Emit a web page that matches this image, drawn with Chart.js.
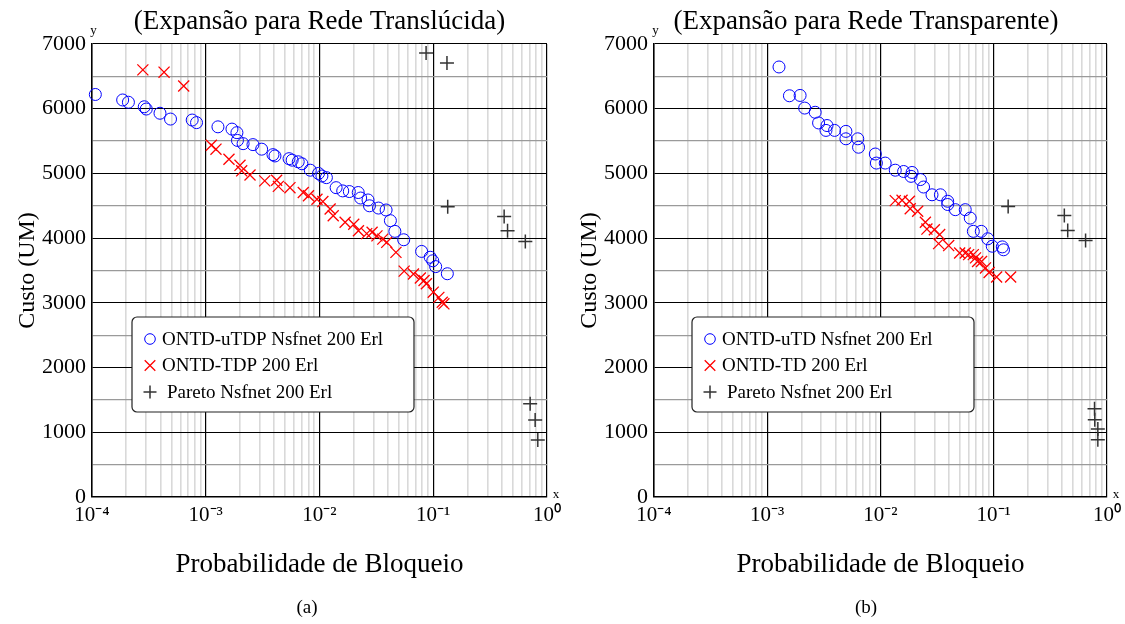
<!DOCTYPE html>
<html><head><meta charset="utf-8">
<script src="https://cdn.jsdelivr.net/npm/chart.js@4.4.1/dist/chart.umd.min.js"></script>
<style>
html,body{margin:0;padding:0;background:#fff;overflow:hidden;width:1125px;height:624px}
canvas{position:absolute;top:0}
</style></head><body>
<canvas id="ca" width="614" height="624" style="left:0px"></canvas>
<canvas id="cb" width="608" height="624" style="left:562px"></canvas>
<script>
// ---------- tick labels ----------
const xTickValues = [1e-4, 1e-3, 1e-2, 1e-1, 1];
const xTickLabels = ['10⁻⁴', '10⁻³', '10⁻²', '10⁻¹', '10⁰'];
const yTickValues = [0, 1000, 2000, 3000, 4000, 5000, 6000, 7000];
const yTickLabels = ['0', '1000', '2000', '3000', '4000', '5000', '6000', '7000'];

// ---------- (a) Expansão para Rede Translúcida ----------
const uTDP_x = [1.07e-4, 1.86e-4, 2.09e-4, 2.88e-4, 3.0e-4, 3.96e-4, 4.9e-4, 7.6e-4, 8.3e-4, 1.28e-3, 1.7e-3, 1.88e-3, 1.9e-3, 2.13e-3, 2.6e-3, 3.1e-3, 3.9e-3, 4.06e-3, 5.4e-3, 5.75e-3, 6.5e-3, 7.0e-3, 8.3e-3, 9.8e-3, 1.05e-2, 1.15e-2, 1.4e-2, 1.6e-2, 1.83e-2, 2.19e-2, 2.3e-2, 2.67e-2, 2.75e-2, 3.3e-2, 3.85e-2, 4.2e-2, 4.6e-2, 5.5e-2, 7.9e-2, 9.4e-2, 0.099, 0.105, 0.133];
const uTDP_y = [6220, 6135, 6100, 6030, 5995, 5930, 5840, 5825, 5785, 5720, 5685, 5630, 5510, 5460, 5445, 5375, 5290, 5270, 5228, 5205, 5180, 5150, 5050, 5000, 4960, 4935, 4780, 4730, 4720, 4705, 4620, 4590, 4500, 4465, 4435, 4270, 4105, 3975, 3795, 3705, 3650, 3560, 3450];
const TDP_x = [2.8e-4, 4.3e-4, 6.4e-4, 1.12e-3, 1.23e-3, 1.6e-3, 2.0e-3, 2.07e-3, 2.45e-3, 3.3e-3, 4.2e-3, 4.35e-3, 5.5e-3, 7.2e-3, 8.0e-3, 9.5e-3, 1.07e-2, 1.24e-2, 1.32e-2, 1.68e-2, 2.0e-2, 2.2e-2, 2.6e-2, 2.9e-2, 3.2e-2, 3.6e-2, 3.9e-2, 4.7e-2, 5.55e-2, 6.7e-2, 7.7e-2, 8.3e-2, 8.7e-2, 0.1, 0.112, 0.12, 0.124];
const TDP_y = [6600, 6565, 6350, 5435, 5375, 5220, 5125, 5040, 4975, 4885, 4895, 4800, 4780, 4705, 4655, 4600, 4565, 4450, 4345, 4245, 4215, 4115, 4070, 4090, 4035, 3985, 3935, 3780, 3490, 3445, 3385, 3345, 3295, 3165, 3085, 3010, 2985];
const paretoA_x = [0.0865, 0.132, 0.134, 0.42, 0.45, 0.645, 0.711, 0.787, 0.83];
const paretoA_y = [6860, 6705, 4485, 4335, 4115, 3950, 1440, 1190, 880];

// ---------- (b) Expansão para Rede Transparente ----------
const uTD_x = [1.27e-3, 1.57e-3, 1.95e-3, 2.14e-3, 2.65e-3, 2.84e-3, 3.37e-3, 3.3e-3, 3.93e-3, 4.95e-3, 4.95e-3, 6.3e-3, 6.4e-3, 9.0e-3, 9.2e-3, 1.1e-2, 1.35e-2, 1.6e-2, 1.9e-2, 1.86e-2, 2.25e-2, 2.4e-2, 2.85e-2, 3.38e-2, 3.92e-2, 3.92e-2, 4.58e-2, 5.6e-2, 6.2e-2, 6.6e-2, 7.76e-2, 8.86e-2, 9.7e-2, 0.119, 0.122];
const uTD_y = [6645, 6200, 6205, 6010, 5945, 5780, 5740, 5665, 5665, 5650, 5535, 5535, 5405, 5300, 5160, 5160, 5050, 5030, 5015, 4955, 4905, 4790, 4670, 4670, 4570, 4520, 4440, 4440, 4310, 4105, 4105, 3990, 3875, 3865, 3820];
const TD_x = [1.35e-2, 1.55e-2, 1.8e-2, 1.83e-2, 2.13e-2, 2.49e-2, 2.57e-2, 2.99e-2, 3.33e-2, 3.26e-2, 4.0e-2, 5.0e-2, 5.6e-2, 6.0e-2, 6.6e-2, 6.9e-2, 7.2e-2, 7.8e-2, 8.45e-2, 9.1e-2, 0.106, 0.141];
const TD_y = [4580, 4585, 4570, 4455, 4415, 4245, 4140, 4130, 4055, 3915, 3885, 3770, 3770, 3745, 3745, 3695, 3640, 3640, 3540, 3470, 3400, 3400];
const paretoB_x = [0.134, 0.42, 0.45, 0.647, 0.776, 0.78, 0.83, 0.83];
const paretoB_y = [4490, 4350, 4120, 3965, 1365, 1195, 1050, 885];

// ---------- helpers ----------
const SERIF = "'Liberation Serif', 'Times New Roman', serif";
const pts = (xs, ys) => xs.map((x, i) => ({x: x, y: ys[i]}));
const xGridValues = [];
xTickValues.slice(0, -1).forEach(d => { for (let k = 1; k <= 9; k++) xGridValues.push(+(d * k).toPrecision(6)); });
xGridValues.push(xTickValues[xTickValues.length - 1]);
const yGridValues = [];
for (let v = yTickValues[0]; v <= yTickValues[yTickValues.length - 1]; v += 500) yGridValues.push(v);
const isDecade = v => xTickValues.some(t => Math.abs(t - v) / t < 1e-6);

const figPlugin = {
  id: 'fig',
  afterDraw(chart, args, o) {
    const ctx = chart.ctx, ca = chart.chartArea;
    ctx.save();
    ctx.fillStyle = '#000';
    ctx.font = '13px ' + SERIF;
    ctx.textAlign = 'center'; ctx.textBaseline = 'middle';
    ctx.fillText('y', ca.left + 1.5, ca.top - 13);
    ctx.fillText('x', ca.right + 9, ca.bottom - 2);
    const L = ca.left + o.dx, T = ca.top + o.dy, W = o.w, H = o.h;
    ctx.beginPath();
    ctx.roundRect(L, T, W, H, 5);
    ctx.fillStyle = '#fff'; ctx.fill();
    ctx.lineWidth = 1.2; ctx.strokeStyle = '#222'; ctx.stroke();
    chart.data.datasets.forEach((ds, i) => {
      const y = T + 22 + i * 26.5;
      ctx.strokeStyle = ds.borderColor; ctx.fillStyle = 'rgba(0,0,0,0)';
      ctx.lineWidth = ds.borderWidth;
      Chart.helpers.drawPoint(ctx, {pointStyle: ds.pointStyle, radius: ds.legendRadius, rotation: 0, borderWidth: ds.borderWidth}, L + 18, y);
      ctx.fillStyle = '#000';
      ctx.font = '19px ' + SERIF;
      ctx.textAlign = 'left'; ctx.textBaseline = 'middle';
      ctx.fillText(ds.label, L + (ds.pointStyle === 'cross' ? 35 : 30), y + 1);
    });
    ctx.restore();
  }
};

// rightSpace: width of an empty right-hand box, used to place the full-width title / sub-caption centres
function makeChart(id, title, sub, titleFull, rightSpace, legendDx, sets) {
  const dsStyles = [
    {pointStyle: 'circle', pointRadius: 6, legendRadius: 5.3, borderColor: '#0000ff', borderWidth: 1},
    {pointStyle: 'crossRot', pointRadius: 7.8, legendRadius: 7.5, borderColor: '#ff0000', borderWidth: 1.3},
    {pointStyle: 'cross', pointRadius: 7, legendRadius: 6.5, borderColor: '#333333', borderWidth: 1.5}
  ];
  return new Chart(document.getElementById(id), {
    type: 'scatter',
    data: {
      datasets: sets.map((s, i) => Object.assign({
        label: s.label, data: s.data, backgroundColor: 'rgba(0,0,0,0)', clip: false,
        pointHoverRadius: dsStyles[i].pointRadius
      }, dsStyles[i]))
    },
    plugins: [figPlugin],
    options: {
      responsive: false, animation: false, events: [],
      layout: {padding: {left: 0, right: 0, top: 0, bottom: 0}},
      scales: {
        x: {
          type: 'logarithmic', min: xTickValues[0], max: xTickValues[xTickValues.length - 1],
          afterBuildTicks(scale) { scale.ticks = xGridValues.map(v => ({value: v})); },
          afterFit(scale) { scale.height = 99.6; scale.paddingLeft = 0; scale.paddingRight = 0; },
          ticks: {
            autoSkip: false, maxRotation: 0, minRotation: 0, padding: 6, color: '#000',
            font: {family: SERIF, size: 21},
            callback(v) { const i = xTickValues.findIndex(t => Math.abs(t - v) / t < 1e-6); return i >= 0 ? xTickLabels[i] : ''; }
          },
          grid: {
            drawTicks: false,
            color(c) { return c.tick && isDecade(c.tick.value) ? '#000' : '#d9d9d9'; },
            lineWidth(c) { return c.tick && isDecade(c.tick.value) ? 1.2 : 1.6; }
          },
          border: {display: true, color: '#000', width: 1.5},
          title: {display: true, text: 'Probabilidade de Bloqueio', color: '#000', font: {family: SERIF, size: 27}, padding: {top: 0, bottom: 15.4}}
        },
        y: {
          min: yTickValues[0], max: yTickValues[yTickValues.length - 1],
          afterBuildTicks(scale) { scale.ticks = yGridValues.map(v => ({value: v})); },
          afterFit(scale) { scale.width = 92; scale.paddingTop = 0; scale.paddingBottom = 0; },
          ticks: {
            autoSkip: false, padding: 6, color: '#000', font: {family: SERIF, size: 22},
            callback(v) { const i = yTickValues.indexOf(v); return i >= 0 ? yTickLabels[i] : ''; }
          },
          grid: {
            drawTicks: false,
            color(c) { return c.tick && c.tick.value % 1000 === 0 ? '#000' : '#9a9a9a'; },
            lineWidth(c) { return c.tick && c.tick.value % 1000 === 0 ? 1.1 : 1.3; }
          },
          border: {display: true, color: '#000', width: 1.5},
          title: {display: true, text: 'Custo (UM)', color: '#000', font: {family: SERIF, size: 24}, padding: {top: 13.6, bottom: 0}}
        },
        yR: {
          position: 'right', min: 0, max: 1,
          afterFit(scale) { scale.width = rightSpace; scale.paddingTop = 0; scale.paddingBottom = 0; },
          ticks: {display: false},
          grid: {display: false, drawOnChartArea: false, drawTicks: false},
          border: {display: false},
          title: {display: false}
        }
      },
      plugins: {
        legend: {display: false},
        tooltip: {enabled: false},
        title: {display: true, text: title, fullSize: titleFull, color: '#000', font: {family: SERIF, size: 27, weight: 'normal'}, padding: {top: 5.8, bottom: 5.8}},
        subtitle: {display: true, text: sub, position: 'bottom', fullSize: true, color: '#000', font: {family: SERIF, size: 19}, padding: {top: 0, bottom: 4.6}},
        fig: {dx: legendDx, dy: 273, w: 282, h: 95}
      }
    }
  });
}

makeChart('ca', '(Expansão para Rede Translúcida)', '(a)', false, 67, 40, [
  {label: 'ONTD-uTDP Nsfnet 200 Erl', data: pts(uTDP_x, uTDP_y)},
  {label: 'ONTD-TDP 200 Erl', data: pts(TDP_x, TDP_y)},
  {label: 'Pareto Nsfnet 200 Erl', data: pts(paretoA_x, paretoA_y)}
]);
makeChart('cb', '(Expansão para Rede Transparente)', '(b)', true, 63, 38, [
  {label: 'ONTD-uTD Nsfnet 200 Erl', data: pts(uTD_x, uTD_y)},
  {label: 'ONTD-TD 200 Erl', data: pts(TD_x, TD_y)},
  {label: 'Pareto Nsfnet 200 Erl', data: pts(paretoB_x, paretoB_y)}
]);
</script>
</body></html>
